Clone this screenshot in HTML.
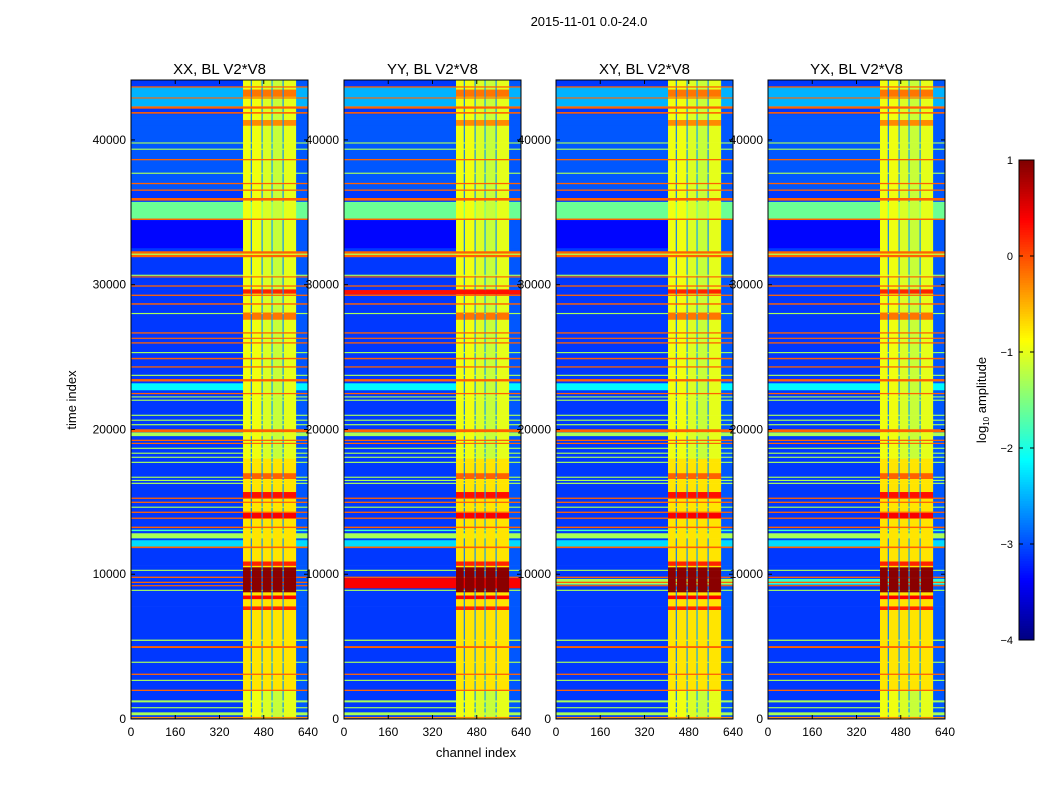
<!DOCTYPE html>
<html><head><meta charset="utf-8">
<style>
html,body{margin:0;padding:0;background:#fff;}
body{width:1050px;height:800px;overflow:hidden;font-family:"Liberation Sans",sans-serif;}
svg text{font-family:"Liberation Sans",sans-serif;}
</style></head>
<body>
<svg id="fig" width="1050" height="800" viewBox="0 0 1050 800" xmlns="http://www.w3.org/2000/svg">
  <rect width="1050" height="800" fill="#fff"/>
  <text x="589" y="26" font-size="13" text-anchor="middle">2015-11-01 0.0-24.0</text>
  <g id="panels"></g>
  <text x="76" y="400" font-size="13" text-anchor="middle" transform="rotate(-90 76 400)">time index</text>
  <text x="476" y="757" font-size="13" text-anchor="middle">channel index</text>
  <g id="cbar"></g>
  <text x="986" y="400" font-size="13" text-anchor="middle" transform="rotate(-90 986 400)">log<tspan font-size="8" dy="3">10</tspan><tspan dy="-3"> amplitude</tspan></text>
</svg>
<script>
// ---- data ----
const panelTitles = ["XX, BL V2*V8","YY, BL V2*V8","XY, BL V2*V8","YX, BL V2*V8"];
const xTicks = [0,160,320,480,640];
const yTicks = [0,10000,20000,30000,40000];
const cbarTicks = [1,0,-1,-2,-3,-4];
// channel segments: edges and base level, type
const colEdges = [0,405,433,437,472,476,508,512,548,552,597,640];
const colVals  = [-3.1,-0.95,-2.8,-0.95,-2.7,-1.05,-2.6,-1.15,-2.7,-1.0,-2.95];
const colTypes = ["bg","band","sep","band","sep","band","sep","band","sep","band","bg"];
// background (non-band) level regions [t0,t1,value]
const bgRegions = [[42300,43650,-2.5],[32540,34470,-3.35],[22730,23210,-2.15],[11880,12370,-2.3],[36600,41800,-2.95]];
// full-width lines [tCenter,widthT,value]
const rowLines = [
 [43680,90,-0.1],[42920,80,-0.1],[42260,160,-0.1],[41890,110,-0.1],[39810,80,-1.3],[39380,80,-1.3],
 [38660,90,-0.1],[37720,80,-1.3],[37010,90,-0.1],[36550,90,-0.1],[35920,180,-0.1],[35165,1150,-1.6],
 [34540,100,-0.1],[32250,160,-0.1],[32000,160,-0.1],[32125,90,-1.3],[30670,80,-1.3],[30560,80,-0.1],
 [29930,90,-0.1],[29290,90,-0.1],[28690,100,-0.1],[28030,80,-1.3],[26690,90,-0.1],[26320,80,-0.1],
 [26000,90,-0.1],[25330,80,-1.3],[24920,100,-0.1],[24340,90,-0.1],[23760,80,-1.3],[23420,160,-0.1],
 [22500,90,-0.1],[22270,80,-1.3],[22040,80,-1.3],[21000,80,-1.3],[20660,80,-1.3],[20350,80,-1.3],
 [19935,200,-0.1],[19690,260,-1.3],[19270,90,-0.1],[19060,80,-0.1],[18720,80,-1.3],[18380,80,-1.3],
 [18100,80,-1.3],[17750,80,-1.3],[16720,80,-1.3],[16500,80,-1.3],[16300,80,-1.3],[15270,90,-0.1],
 [14990,90,-0.1],[14650,80,-1.3],[14300,90,-0.1],[13890,90,-0.1],[13260,100,-0.1],[13050,100,-1.8],
 [12675,350,-1.3],[11880,110,-0.1],[10290,80,-1.3],[9810,90,-0.1],[9460,90,-0.1],[9230,80,-0.1],
 [8910,80,-1.3],[5460,90,-1.3],[4990,130,-0.1],[3940,80,-1.3],[3110,90,-0.1],[2690,80,-1.3],
 [2000,90,-0.1],[1240,140,-1.3],[800,80,-1.3],[380,200,-1.3],[120,90,-0.3]
];
// band-only boosts [t0,t1,value]
const bandBoosts = [
 [2000,18000,-0.75],[8770,10500,0.95],[15300,15700,0.3],[13900,14250,0.4],[8300,8550,0.4],[7550,7800,0.2],
 [10600,10900,0.2],[16600,17000,-0.1],[29400,29700,0.2],[27600,28100,-0.2],[41000,41400,-0.3],[43000,43500,-0.2]
];
// per-panel extra lines [tCenter,widthT,value]
const extraLines = [
 [],
 [[9400,700,0.4],[29500,300,0.3]],
 [[9500,400,-1.3]],
 [[9500,400,-1.9]]
];

// ---- layout ----
const panelX = [131,344,556,768], panelW = 177, yTop = 80, yBot = 719, tMax = 44140;
const sx = (c,i)=>panelX[i] + c/640*panelW;
const sy = t => yBot - t/tMax*(yBot-yTop);
function jet(v){
  let x=(v+4)/5; x=Math.max(0,Math.min(1,x));
  const f=a=>Math.round(255*Math.max(0,Math.min(1,a)));
  return `rgb(${f(1.5-Math.abs(4*x-3))},${f(1.5-Math.abs(4*x-2))},${f(1.5-Math.abs(4*x-1))})`;
}
const NS="http://www.w3.org/2000/svg";
function mk(tag,attrs,parent){const e=document.createElementNS(NS,tag);for(const k in attrs)e.setAttribute(k,attrs[k]);parent.appendChild(e);return e;}

const panels=document.getElementById('panels');
for(let p=0;p<4;p++){
  const g=mk('g',{},panels);
  
  
  const lines=rowLines.concat(extraLines[p]);
  const bps=new Set([0,tMax]);
  bgRegions.forEach(r=>{bps.add(r[0]);bps.add(r[1]);});
  bandBoosts.forEach(r=>{bps.add(r[0]);bps.add(r[1]);});
  lines.forEach(l=>{bps.add(l[0]-l[1]/2);bps.add(l[0]+l[1]/2);});
  const ts=[...bps].filter(t=>t>=0&&t<=tMax).sort((a,b)=>a-b);
  for(let k=0;k<ts.length-1;k++){
    const t0=ts[k],t1=ts[k+1],tm=(t0+t1)/2;
    let bg=null,boost=-9,line=-9;
    bgRegions.forEach(r=>{if(tm>=r[0]&&tm<r[1]&&bg===null)bg=r[2];});
    bandBoosts.forEach(r=>{if(tm>=r[0]&&tm<r[1])boost=Math.max(boost,r[2]);});
    lines.forEach(l=>{if(Math.abs(tm-l[0])<l[1]/2)line=Math.max(line,l[2]);});
    for(let c=0;c<colVals.length;c++){
      let v=colVals[c];
      if(colTypes[c]==='bg'&&bg!==null)v=(c===0)?bg:Math.max(bg,v);
      if(colTypes[c]==='band')v=Math.max(v,boost);
      v=Math.max(v,line);
      const x0=sx(colEdges[c],p),x1=sx(colEdges[c+1],p);
      const r=mk('rect',{x:x0.toFixed(2),y:sy(t1).toFixed(2),width:(x1-x0+0.3).toFixed(2),height:(sy(t0)-sy(t1)+0.3).toFixed(2),fill:jet(v)},g);
      
      
    }
  }
  mk('rect',{x:panelX[p],y:yTop,width:panelW,height:yBot-yTop,fill:'none',stroke:'#000','stroke-width':1},g);
  const ttl=mk('text',{x:panelX[p]+panelW/2,y:74,'font-size':15,'text-anchor':'middle'},g);
  ttl.textContent=panelTitles[p];
  
  
  xTicks.forEach(v=>{
    const x=sx(v,p);
    mk('line',{x1:x,y1:yBot,x2:x,y2:yBot-4,stroke:'#000'},g);
    mk('line',{x1:x,y1:yTop,x2:x,y2:yTop+4,stroke:'#000'},g);
    const t=mk('text',{x:x,y:736,'font-size':12,'text-anchor':'middle'},g);
    t.textContent=v;
    
    
  });
}
// y ticks on top of everything
for(let p=0;p<4;p++){
  const g=mk('g',{},panels);
  
  
  yTicks.forEach(v=>{
    const y=sy(v);
    mk('line',{x1:panelX[p],y1:y,x2:panelX[p]+4,y2:y,stroke:'#000'},g);
    mk('line',{x1:panelX[p]+panelW,y1:y,x2:panelX[p]+panelW-4,y2:y,stroke:'#000'},g);
    const t=mk('text',{x:panelX[p]-5,y:y+4,'font-size':12,'text-anchor':'end'},g);
    t.textContent=v;
    
    
  });
}
// colorbar
const cb=document.getElementById('cbar');
const cbX=1019,cbW=15,cbTop=160,cbBot=640;
const cy=v=>cbBot-(v+4)/5*(cbBot-cbTop);
for(let i=0;i<200;i++){
  const v0=-4+5*i/200,v1=-4+5*(i+1)/200;
  const r=mk('rect',{x:cbX,y:cy(v1).toFixed(2),width:cbW,height:(cy(v0)-cy(v1)+0.4).toFixed(2),fill:jet((v0+v1)/2)},cb);
  
  
}
mk('rect',{x:cbX,y:cbTop,width:cbW,height:cbBot-cbTop,fill:'none',stroke:'#000'},cb);
cbarTicks.forEach(v=>{
  const y=cy(v);
  mk('line',{x1:cbX,y1:y,x2:cbX+4,y2:y,stroke:'#000'},cb);
  mk('line',{x1:cbX+cbW,y1:y,x2:cbX+cbW-4,y2:y,stroke:'#000'},cb);
  const t=mk('text',{x:cbX-6,y:y+4,'font-size':11,'text-anchor':'end'},cb);
  t.textContent=v<0?'\u2212'+(-v):String(v);
  
  
});
</script>
</body></html>
